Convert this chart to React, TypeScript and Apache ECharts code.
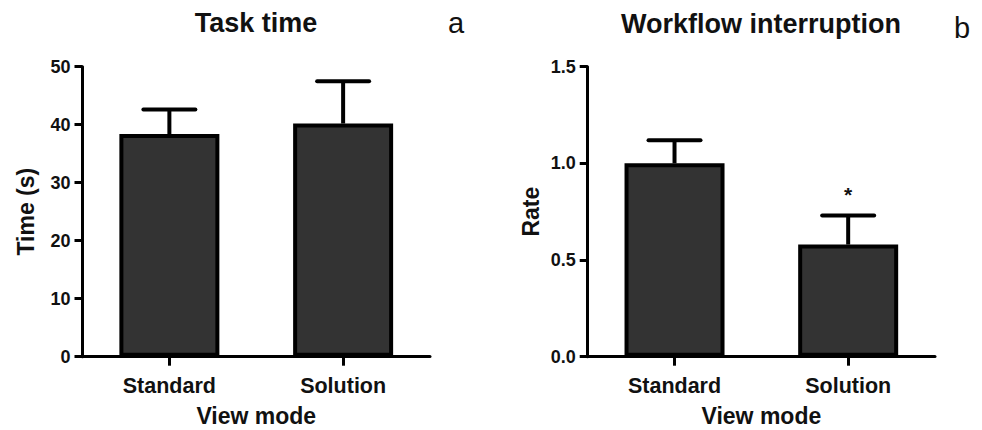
import React, { useEffect, useRef } from "react";
import * as echarts from "echarts";

const categories = ["Standard", "Solution"];
const taskTimeMean = [38.4, 40.2];
const taskTimeErr = [4.2, 7.3];
const interruptionMean = [1.0, 0.58];
const interruptionErr = [0.12, 0.15];
const interruptionMarks = ["", "*"];
const taskMarks = ["", ""];

const FONT = "'Liberation Sans', Arial, sans-serif";

export default function App() {
  const ref = useRef<HTMLDivElement>(null);
  useEffect(() => {
    if (!ref.current) return;
    const chart = echarts.init(ref.current, undefined, { renderer: "svg" });

    const errData = (mean: number[], err: number[], marks: string[]) =>
      mean.map((m, i) => [i, m, m + err[i], marks[i]]);

    const errRender = (params: any, api: any) => {
      const x = api.value(0);
      const mean = api.value(1);
      const high = api.value(2);
      const mark = api.value(3);
      const p0 = api.coord([x, mean]);
      const p1 = api.coord([x, high]);
      const half = 26;
      const children: any[] = [
        {
          type: "line",
          shape: { x1: p0[0], y1: p0[1], x2: p1[0], y2: p1[1] },
          style: { stroke: "#000", lineWidth: 4 },
        },
        {
          type: "line",
          shape: { x1: p1[0] - half, y1: p1[1], x2: p1[0] + half, y2: p1[1] },
          style: { stroke: "#000", lineWidth: 4, lineCap: "round" },
        },
      ];
      if (mark && mark !== "-" && String(mark).length) {
        children.push({
          type: "text",
          x: p1[0],
          y: p1[1] - 21,
          style: {
            text: String(mark),
            fontSize: 21,
            fontWeight: "bold",
            fontFamily: FONT,
            fill: "#111",
            align: "center",
            verticalAlign: "middle",
          },
        });
      }
      return { type: "group", children };
    };

    const axisLineStyle = { color: "#000", width: 3 };

    const xAxisBase = (gridIndex: number) => ({
      type: "category",
      gridIndex,
      data: categories,
      axisLine: { show: true, lineStyle: axisLineStyle },
      axisTick: { show: true, alignWithLabel: true, length: 9, lineStyle: axisLineStyle },
      axisLabel: {
        color: "#111",
        fontSize: 21.5,
        fontWeight: "bold",
        fontFamily: FONT,
        margin: 18,
      },
      name: "View mode",
      nameLocation: "middle",
      nameGap: 48,
      nameTextStyle: { color: "#111", fontSize: 23, fontWeight: "bold", fontFamily: FONT },
      splitLine: { show: false },
    });

    const yAxisBase = (gridIndex: number, max: number, interval: number, name: string, dec: number) => ({
      type: "value",
      gridIndex,
      min: 0,
      max,
      interval,
      axisLine: { show: true, lineStyle: axisLineStyle },
      axisTick: { show: true, length: 8, lineStyle: axisLineStyle },
      axisLabel: {
        color: "#111",
        fontSize: 18,
        fontWeight: "bold",
        fontFamily: FONT,
        margin: 12,
        formatter: (v: number) => v.toFixed(dec),
      },
      splitLine: { show: false },
      name,
      nameLocation: "middle",
      nameGap: 45,
      nameTextStyle: { color: "#111", fontSize: 23, fontWeight: "bold", fontFamily: FONT },
    });

    const barStyle = { color: "#333333", borderColor: "#000", borderWidth: 4 };

    chart.setOption({
      animation: false,
      backgroundColor: "#fff",
      grid: [
        { left: 82.5, top: 66.7, width: 347.5, height: 290, containLabel: false, outerBoundsMode: "none" },
        { left: 587.7, top: 66.7, width: 347.3, height: 290, containLabel: false, outerBoundsMode: "none" },
      ],
      xAxis: [xAxisBase(0), xAxisBase(1)],
      yAxis: [
        yAxisBase(0, 50, 10, "Time (s)", 0),
        yAxisBase(1, 1.5, 0.5, "Rate", 1),
      ],
      graphic: [
        {
          type: "text",
          x: 256,
          y: 23,
          style: { text: "Task time", fontSize: 27, fontWeight: "bold", fontFamily: FONT, fill: "#111", align: "center", verticalAlign: "middle" },
        },
        {
          type: "text",
          x: 761,
          y: 24,
          style: { text: "Workflow interruption", fontSize: 27, fontWeight: "bold", fontFamily: FONT, fill: "#111", align: "center", verticalAlign: "middle" },
        },
        {
          type: "text",
          x: 456,
          y: 23,
          style: { text: "a", fontSize: 29, fontFamily: FONT, fill: "#111", align: "center", verticalAlign: "middle" },
        },
        {
          type: "text",
          x: 962,
          y: 28,
          style: { text: "b", fontSize: 29, fontFamily: FONT, fill: "#111", align: "center", verticalAlign: "middle" },
        },
      ],
      series: [
        {
          type: "bar",
          xAxisIndex: 0,
          yAxisIndex: 0,
          data: taskTimeMean,
          barWidth: 100,
          itemStyle: barStyle,
        },
        {
          type: "custom",
          xAxisIndex: 0,
          yAxisIndex: 0,
          data: errData(taskTimeMean, taskTimeErr, taskMarks),
          renderItem: errRender,
          encode: { x: 0, y: [1, 2] },
          z: 5,
        },
        {
          type: "bar",
          xAxisIndex: 1,
          yAxisIndex: 1,
          data: interruptionMean,
          barWidth: 100,
          itemStyle: barStyle,
        },
        {
          type: "custom",
          xAxisIndex: 1,
          yAxisIndex: 1,
          data: errData(interruptionMean, interruptionErr, interruptionMarks),
          renderItem: errRender,
          encode: { x: 0, y: [1, 2] },
          z: 5,
        },
      ],
    });
    return () => chart.dispose();
  }, []);
  return (
    <div
      ref={ref}
      style={{ position: "absolute", left: 0, top: 0, width: 982, height: 430 }}
    />
  );
}
